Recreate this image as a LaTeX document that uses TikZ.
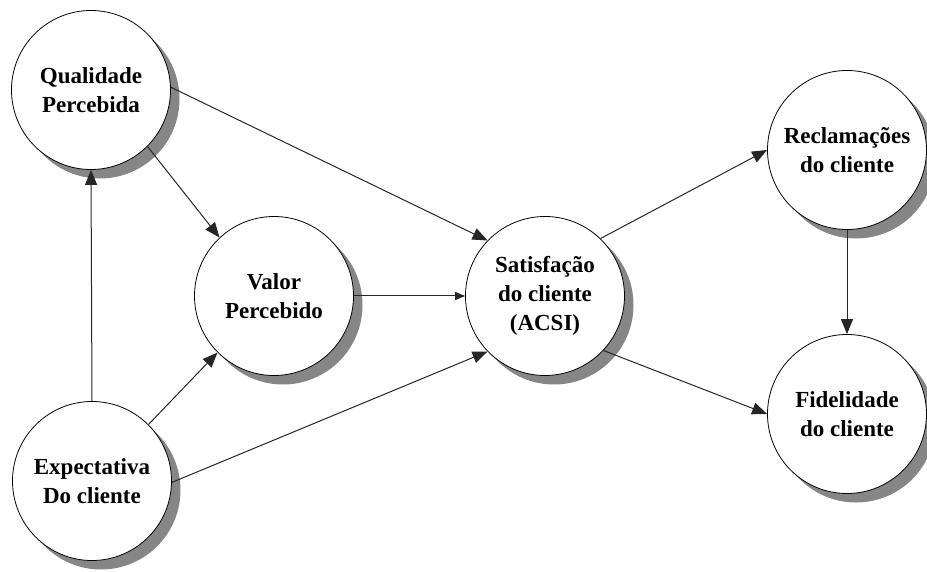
\documentclass[tikz,border=0pt]{standalone}
\usepackage{fontspec}
\setmainfont{Liberation Serif}
\usetikzlibrary{arrows.meta,shadows}

\tikzset{
  construct/.style={circle, draw=black, line width=0.8pt, fill=white,
    minimum size=159pt, inner sep=0pt, align=center,
    font=\fontsize{23}{29}\selectfont\bfseries,
    drop shadow={shadow xshift=9pt, shadow yshift=-9pt, fill=gray!95, opacity=1}},
  link/.style={draw=black!85, line width=1pt, -{Triangle[length=15pt,width=12pt]}},
  shortlink/.style={draw=black!85, line width=1pt, -{Triangle[length=10pt,width=8pt]}}
}

\begin{document}
\begin{tikzpicture}[x=1pt,y=1pt]
  \useasboundingbox (0,0) rectangle (927,571);

  % constructs of the model
  \node[construct] (qual) at (91,481)  {Qualidade\\Percebida};
  \node[construct] (valor) at (274,275) {Valor\\Percebido};
  \node[construct] (sat)  at (545,275) {Satisfação\\do cliente\\(ACSI)};
  \node[construct] (expc) at (92,90)   {Expectativa\\Do cliente};
  \node[construct] (recl) at (847,421) {Reclamações\\do cliente};
  \node[construct] (fid)  at (847,157) {Fidelidade\\do cliente};

  % causal paths
  \draw[link] (expc.90)  -- (qual.270);
  \draw[link] (qual.-45) -- (valor.133);
  \draw[link] (expc.45)  -- (valor.225);
  \draw[link] (qual.2)   -- (sat.136);
  \draw[shortlink] (valor.0) -- (sat.180);
  \draw[link] (expc.-1)  -- (sat.224);
  \draw[link] (sat.46)   -- (recl.180);
  \draw[link] (sat.-43)  -- (fid.180);
  \draw[link] (recl.270) -- (fid.90);
\end{tikzpicture}
\end{document}
